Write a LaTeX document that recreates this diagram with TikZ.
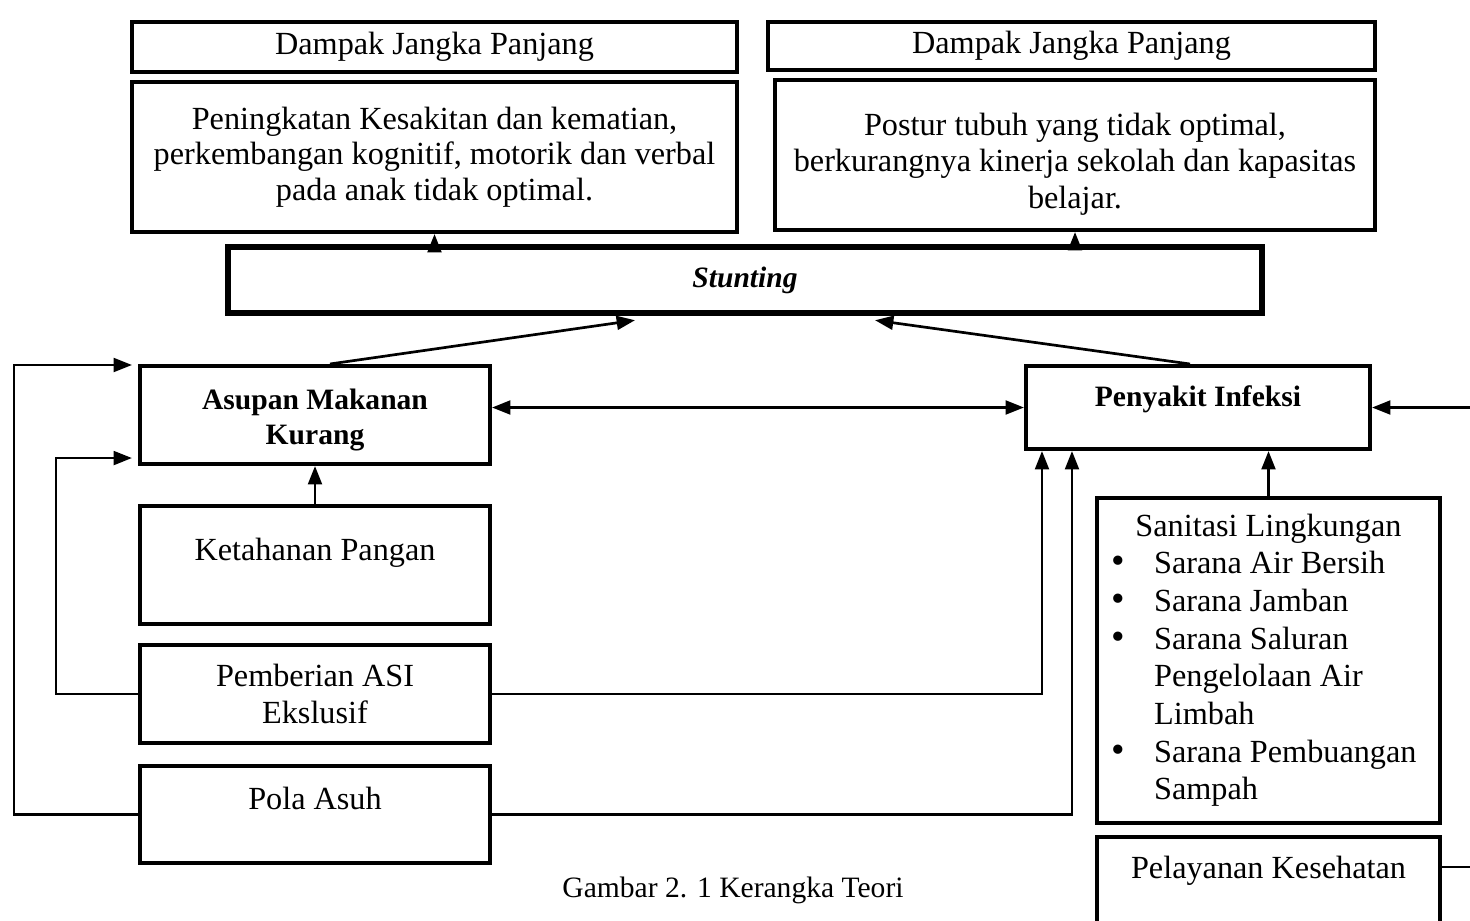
\documentclass[tikz,border=0pt]{standalone}
\usepackage{fontspec}
\setmainfont{Liberation Serif}
\usetikzlibrary{arrows.meta,calc}
\newcommand{\pxl}{0.01308cm}

\begin{document}
\begin{tikzpicture}
    [
        x=0.01308cm, y=-0.01308cm,
        box style/.style={draw, line width=1.5pt, inner sep=0pt, align=center, font=\fontsize{12}{14}\selectfont},
        bold style/.style={box style, font=\fontsize{11}{13}\selectfont\bfseries},
        stunting style/.style={draw, line width=2.4pt, inner sep=0pt, font=\fontsize{11}{13}\selectfont\bfseries\itshape},
        arrow style/.style={-{Triangle[length=2.4mm,width=1.8mm]}, line width=1pt},
        both style/.style={{Triangle[length=2.4mm,width=1.8mm]}-{Triangle[length=2.4mm,width=1.8mm]}, line width=1pt}
    ]
    \useasboundingbox (0,0) rectangle (1470,920);
    % dampak
    \node[box style, minimum width=605*\pxl, minimum height=50*\pxl] (dampakA) at (434.5,47) {Dampak Jangka Panjang};
    \node[box style, minimum width=607*\pxl, minimum height=48*\pxl] (dampakB) at (1071.5,46) {Dampak Jangka Panjang};
    \node[box style, font=\fontsize{12}{13.2}\selectfont, minimum width=605*\pxl, minimum height=150*\pxl] (efekA) at (434.5,157) {Peningkatan Kesakitan dan kematian,\\perkembangan kognitif, motorik dan verbal\\pada anak tidak optimal.};
    \node[box style, font=\fontsize{12}{13.5}\selectfont, minimum width=600*\pxl, minimum height=150*\pxl] (efekB) at (1075,155) {\rule{0pt}{15pt}Postur tubuh yang tidak optimal,\\berkurangnya kinerja sekolah dan kapasitas\\belajar.};
    \node[stunting style, minimum width=1034*\pxl, minimum height=66*\pxl] (stunting) at (745,280) {Stunting};
    % penyebab
    \node[bold style, minimum width=350*\pxl, minimum height=98*\pxl] (asupan) at (315,415) {\rule{0pt}{11.4pt}Asupan Makanan\\Kurang};
    \node[bold style, minimum width=344*\pxl, minimum height=83*\pxl, text height=7.7pt, text depth=8.8pt] (infeksi) at (1198,407.5) {Penyakit Infeksi};
    \node[box style, minimum width=350*\pxl, minimum height=118*\pxl, text height=8.4pt, text depth=12pt] (pangan) at (315,565) {Ketahanan Pangan};
    \node[box style, minimum width=350*\pxl, minimum height=98*\pxl] (asi) at (315,694) {Pemberian ASI\\Ekslusif};
    \node[box style, minimum width=350*\pxl, minimum height=97*\pxl, text height=8.4pt, text depth=12pt] (pola) at (315,814.5) {Pola Asuh};
    \node[box style, minimum width=343*\pxl, minimum height=325*\pxl] (sanitasi) at (1268.5,660.5) {\begin{tabular}{@{}p{0.56cm}@{}l@{\hspace{0.12cm}}}
        \multicolumn{2}{c}{Sanitasi Lingkungan\hspace{-0.12cm}}\\
        {\Large\textbullet} & Sarana Air Bersih\\
        {\Large\textbullet} & Sarana Jamban\\
        {\Large\textbullet} & Sarana Saluran\\
                    & Pengelolaan Air\\
                    & Limbah\\
        {\Large\textbullet} & Sarana Pembuangan\\
                    & Sampah
    \end{tabular}};
    \node[box style, anchor=north, minimum width=343*\pxl, minimum height=110*\pxl, text height=8.4pt, text depth=18.8pt] (pelayanan) at (1268.5,835) {Pelayanan Kesehatan};
    \node[font=\fontsize{11}{13}\selectfont] (judul) at (733,890) {Gambar 2. 1 Kerangka Teori};

    \draw[arrow style] (stunting.north -| efekA.south) -- (efekA.south);
    \draw[arrow style] (stunting.north -| efekB.south) -- (efekB.south);
    \draw[arrow style] ($(asupan.north)+(15,0)$) -- ($(stunting.south)+(-110,4)$);
    \draw[arrow style] ($(infeksi.north)+(-8,0)$) -- ($(stunting.south)+(130,4)$);
    \draw[both style] (asupan.east |- infeksi.west) -- (infeksi.west);
    \draw[arrow style] (pangan.north) -- (asupan.south);
    \draw[arrow style] (asi.east) -| ($(infeksi.south west)+(18,0)$);
    \draw[arrow style] (pola.east) -| ($(infeksi.south west)+(48,0)$);
    \draw[arrow style] (asi.west) -- ++(-82,0) |- ($(asupan.south west)+(-6,-8)$);
    \draw[arrow style] (pola.west) -- ++(-124,0) |- ($(asupan.north west)+(-6,1)$);
    \draw[arrow style] (sanitasi.north) -- (sanitasi.north |- infeksi.south);
    \coordinate (tepi) at ($(infeksi.east)+(104,0)$);
    \draw[arrow style] ($(pelayanan.north east)+(0,32)$) -| (tepi) -- (infeksi.east);
\end{tikzpicture}
\end{document}
